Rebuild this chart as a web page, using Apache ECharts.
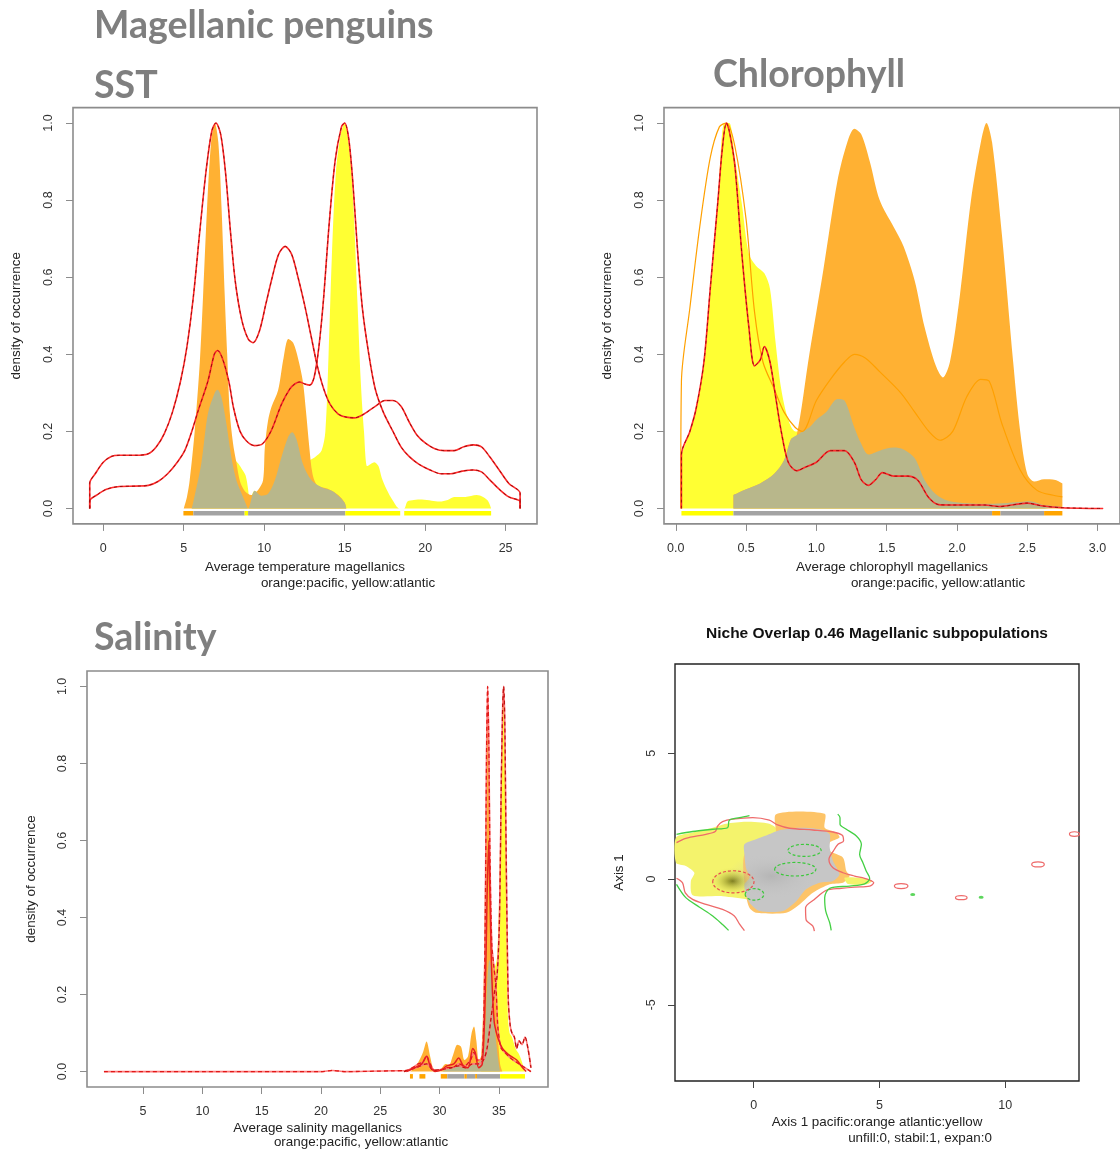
<!DOCTYPE html>
<html>
<head>
<meta charset="utf-8">
<script src="https://cdn.jsdelivr.net/npm/echarts@6/dist/echarts.min.js"></script>
<style>
  html, body { margin: 0; padding: 0; background: #fff; }
  #chart { width: 1120px; height: 1151px; }
</style>
</head>
<body>
<div id="chart"></div>
<script>
// ---------- tick values ----------
const densityTicks = [0, 0.2, 0.4, 0.6, 0.8, 1.0];
const sstTicks = [0, 5, 10, 15, 20, 25];
const chlTicks = [0, 0.5, 1.0, 1.5, 2.0, 2.5, 3.0];
const salTicks = [5, 10, 15, 20, 25, 30, 35];
const nicheTicksX = [0, 5, 10];
const nicheTicksY = [-5, 0, 5];

// ---------- SST (x: temperature, y: scaled density) ----------
const sstPacific = [[5.0,0],[5.2,0.03],[5.37,0.073],[5.68,0.2],[6.0,0.38],[6.2,0.55],[6.45,0.78],[6.7,0.95],[6.93,1.0],[7.15,0.95],[7.35,0.78],[7.55,0.55],[7.7,0.4],[7.86,0.25],[8.06,0.17],[8.27,0.12],[8.5,0.07],[8.8,0.045],[9.2,0.035],[9.62,0.048],[9.93,0.073],[10.04,0.159],[10.24,0.228],[10.45,0.263],[10.86,0.306],[11.2,0.39],[11.5,0.44],[11.8,0.43],[12.1,0.39],[12.4,0.33],[12.6,0.25],[12.8,0.16],[13.0,0.09],[13.3,0.06],[14.0,0.05],[14.6,0.035],[15.0,0.015],[15.1,0]];
const sstAtlantic = [[5.5,0.01],[6.09,0.116],[6.5,0.246],[6.93,0.30],[7.1,0.308],[7.34,0.289],[7.65,0.22],[7.96,0.14],[8.2,0.125],[8.4,0.116],[8.65,0.1],[8.85,0.085],[9.0,0.05],[9.1,0.01],[9.2,0.03],[9.41,0.046],[9.83,0.033],[10.24,0.038],[10.66,0.073],[11.07,0.133],[11.48,0.185],[11.74,0.198],[12.0,0.18],[12.4,0.13],[12.7,0.125],[12.94,0.128],[13.15,0.133],[13.56,0.15],[13.8,0.2],[14.0,0.4],[14.2,0.65],[14.45,0.87],[14.75,0.97],[15.0,1.0],[15.3,0.93],[15.55,0.78],[15.8,0.53],[16.0,0.33],[16.2,0.2],[16.4,0.11],[16.6,0.115],[16.85,0.12],[17.1,0.11],[17.3,0.08],[17.6,0.05],[18.0,0.02],[18.4,0],[18.7,0],[18.9,0.018],[19.3,0.022],[19.8,0.023],[20.4,0.02],[20.9,0.018],[21.4,0.022],[21.8,0.03],[22.5,0.03],[23.2,0.035],[23.6,0.03],[23.9,0.02],[24.1,0]];
const sstOverlap = [[5.5,0],[5.57,0.012],[6.09,0.116],[6.5,0.246],[6.93,0.30],[7.1,0.308],[7.34,0.289],[7.65,0.22],[7.96,0.133],[8.27,0.073],[8.6,0.038],[8.9,0.008],[9.0,0],[9.1,0.008],[9.41,0.046],[9.83,0.033],[10.24,0.038],[10.66,0.073],[11.07,0.133],[11.48,0.185],[11.74,0.198],[12.0,0.18],[12.4,0.116],[12.94,0.073],[13.56,0.055],[14.2,0.046],[14.6,0.033],[15.0,0.015],[15.1,0]];
const sstEnvPacific = [[-0.84,0],[-0.84,0.066],[-0.5,0.09],[0,0.12],[0.5,0.135],[1,0.138],[2,0.138],[2.8,0.142],[3.3,0.16],[3.8,0.195],[4.3,0.25],[4.8,0.33],[5.2,0.42],[5.6,0.55],[6.0,0.72],[6.4,0.88],[6.75,0.98],[7.0,1.0],[7.3,0.97],[7.6,0.87],[7.9,0.72],[8.2,0.59],[8.6,0.49],[9.0,0.44],[9.3,0.43],[9.7,0.46],[10.1,0.53],[10.5,0.6],[10.9,0.66],[11.3,0.68],[11.7,0.66],[12.1,0.6],[12.5,0.53],[12.9,0.45],[13.3,0.37],[13.7,0.31],[14.1,0.27],[14.6,0.245],[15.1,0.237],[15.6,0.235],[16.2,0.245],[16.9,0.265],[17.5,0.28],[18.0,0.28],[18.5,0.265],[19.0,0.225],[19.5,0.19],[20.0,0.17],[20.6,0.155],[21.2,0.15],[21.8,0.15],[22.4,0.16],[23.0,0.165],[23.5,0.16],[24.0,0.135],[24.6,0.1],[25.2,0.065],[25.9,0.04],[25.9,0]];
const sstEnvAtlantic = [[-0.84,0],[-0.84,0.02],[-0.4,0.035],[0.2,0.05],[1,0.057],[2,0.058],[2.8,0.06],[3.4,0.07],[4.0,0.09],[4.6,0.12],[5.06,0.15],[5.5,0.2],[5.9,0.254],[6.5,0.33],[6.9,0.4],[7.1,0.41],[7.4,0.39],[7.8,0.33],[8.1,0.26],[8.5,0.2],[8.9,0.175],[9.4,0.163],[9.9,0.168],[10.45,0.203],[11.07,0.27],[11.59,0.31],[11.9,0.323],[12.2,0.328],[12.52,0.323],[12.83,0.32],[13.1,0.34],[13.4,0.42],[13.7,0.55],[14.0,0.72],[14.4,0.9],[14.8,0.99],[15.0,1.0],[15.25,0.96],[15.5,0.85],[15.8,0.67],[16.1,0.52],[16.5,0.4],[16.9,0.31],[17.4,0.25],[18.0,0.2],[18.5,0.16],[19.0,0.135],[19.6,0.115],[20.3,0.1],[21.0,0.09],[21.6,0.09],[22.3,0.097],[23.0,0.1],[23.5,0.095],[24.0,0.075],[24.6,0.05],[25.2,0.03],[25.9,0.018],[25.9,0]];
// rug segments: [from, to, group] group 0 = pacific only, 1 = both, 2 = atlantic only
const sstRug = [[4.98,5.6,0],[5.6,8.78,1],[8.78,9.0,2],[9.0,15.04,1],[15.04,18.45,2],[18.7,24.1,2]];

// ---------- Chlorophyll ----------
const chlPacific = [[0.41,0.035],[0.5,0.05],[0.6,0.065],[0.7,0.09],[0.77,0.125],[0.82,0.18],[0.86,0.19],[0.95,0.40],[1.05,0.62],[1.15,0.85],[1.22,0.95],[1.27,0.985],[1.32,0.97],[1.38,0.9],[1.45,0.80],[1.55,0.73],[1.62,0.68],[1.7,0.59],[1.77,0.47],[1.85,0.37],[1.9,0.34],[1.95,0.38],[2.02,0.55],[2.1,0.80],[2.17,0.95],[2.21,1.0],[2.25,0.95],[2.32,0.71],[2.4,0.38],[2.45,0.2],[2.5,0.09],[2.55,0.07],[2.62,0.076],[2.7,0.074],[2.75,0.065]];
const chlAtlantic = [[0.04,0.14],[0.1,0.2],[0.145,0.26],[0.2,0.38],[0.245,0.57],[0.3,0.8],[0.345,1.0],[0.38,1.0],[0.42,0.91],[0.47,0.79],[0.52,0.66],[0.57,0.63],[0.63,0.61],[0.67,0.57],[0.71,0.43],[0.75,0.31],[0.8,0.23],[0.85,0.2],[0.9,0.2],[0.95,0.21],[1.0,0.23],[1.07,0.25],[1.15,0.284],[1.2,0.28],[1.27,0.21],[1.32,0.167],[1.37,0.14],[1.45,0.15],[1.55,0.158],[1.62,0.153],[1.7,0.13],[1.77,0.074],[1.85,0.037],[1.95,0.019],[2.2,0.012],[2.45,0.017],[2.52,0.019],[2.62,0.009],[2.75,0.005]];
const chlOverlap = [[0.41,0.035],[0.5,0.05],[0.6,0.065],[0.7,0.09],[0.77,0.125],[0.82,0.18],[0.86,0.19],[0.9,0.2],[0.95,0.21],[1.0,0.23],[1.07,0.25],[1.15,0.284],[1.2,0.28],[1.27,0.21],[1.32,0.167],[1.37,0.14],[1.45,0.15],[1.55,0.158],[1.62,0.153],[1.7,0.13],[1.77,0.074],[1.85,0.037],[1.95,0.019],[2.2,0.012],[2.45,0.017],[2.52,0.019],[2.62,0.009],[2.75,0.005]];
const chlEnvPacific = [[0.035,0],[0.04,0.33],[0.1,0.52],[0.17,0.73],[0.245,0.91],[0.31,0.99],[0.36,1.0],[0.42,0.94],[0.5,0.75],[0.56,0.51],[0.62,0.38],[0.7,0.31],[0.77,0.25],[0.85,0.21],[0.9,0.2],[1.0,0.28],[1.1,0.335],[1.2,0.38],[1.27,0.40],[1.35,0.39],[1.45,0.355],[1.6,0.30],[1.7,0.25],[1.8,0.2],[1.88,0.177],[1.97,0.2],[2.07,0.29],[2.17,0.335],[2.23,0.33],[2.32,0.22],[2.45,0.10],[2.57,0.047],[2.7,0.033],[2.75,0.03]];
const chlEnvAtlantic = [[0.04,0],[0.04,0.14],[0.1,0.2],[0.145,0.26],[0.2,0.38],[0.245,0.57],[0.3,0.8],[0.33,0.93],[0.36,1.0],[0.38,0.98],[0.42,0.89],[0.47,0.66],[0.52,0.47],[0.56,0.37],[0.6,0.385],[0.63,0.42],[0.67,0.38],[0.71,0.29],[0.75,0.2],[0.8,0.12],[0.86,0.098],[0.92,0.107],[1.0,0.12],[1.1,0.15],[1.2,0.15],[1.27,0.12],[1.32,0.074],[1.37,0.06],[1.42,0.074],[1.47,0.093],[1.55,0.084],[1.65,0.084],[1.72,0.074],[1.8,0.028],[1.87,0.01],[1.95,0.009],[2.2,0.009],[2.3,0.005],[2.5,0.014],[2.6,0.007],[2.75,0.002],[3.04,0]];
const chlRug = [[0.04,0.41,2],[0.41,2.25,1],[2.25,2.31,0],[2.31,2.62,1],[2.62,2.75,0]];

// ---------- Salinity ----------
const salPacific = [[27.5,0],[27.9,0.01],[28.3,0.03],[28.6,0.05],[28.9,0.078],[29.2,0.04],[29.5,0.005],[29.9,0],[30.2,0.01],[30.5,0.02],[30.8,0.018],[31.1,0.04],[31.5,0.07],[31.8,0.065],[32.1,0.03],[32.4,0.04],[32.7,0.1],[32.9,0.117],[33.1,0.08],[33.3,0.03],[33.5,0.04],[33.7,0.2],[33.85,0.55],[33.95,0.85],[34.05,0.97],[34.15,0.8],[34.25,0.5],[34.4,0.3],[34.55,0.27],[34.7,0.2],[34.9,0.1],[35.1,0.02],[35.3,0]];
const salAtlantic = [[33.5,0],[33.7,0.03],[33.9,0.15],[34.05,0.25],[34.3,0.28],[34.6,0.27],[34.85,0.3],[35.05,0.5],[35.2,0.8],[35.35,0.95],[35.45,0.96],[35.55,0.8],[35.65,0.45],[35.75,0.15],[35.9,0.1],[36.1,0.09],[36.4,0.06],[36.7,0.045],[37.0,0.02],[37.2,0]];
const salOverlap = [[30.2,0],[30.5,0.005],[31.0,0.01],[31.5,0.015],[32.0,0.01],[32.5,0.015],[33.0,0.02],[33.5,0.03],[33.75,0.06],[33.9,0.15],[34.05,0.25],[34.2,0.29],[34.35,0.27],[34.5,0.2],[34.7,0.1],[34.9,0.04],[35.1,0]];
const salEnvPacific = [[1.7,0],[10,0],[20,0],[21,0.003],[22,0],[26,0.002],[27.2,0.003],[27.7,0.01],[28.2,0.02],[28.6,0.025],[28.9,0.04],[29.2,0.02],[29.6,0.003],[30.2,0.005],[30.6,0.01],[31.2,0.012],[31.6,0.02],[32.1,0.015],[32.6,0.03],[32.9,0.05],[33.2,0.03],[33.5,0.03],[33.7,0.1],[33.85,0.4],[33.95,0.8],[34.05,1.0],[34.15,0.85],[34.25,0.55],[34.4,0.33],[34.55,0.28],[34.75,0.22],[34.9,0.12],[35.05,0.08],[35.2,0.06],[35.5,0.05],[35.8,0.04],[36.2,0.03],[36.7,0.02],[37.2,0.01],[37.7,0]];
const salEnvAtlantic = [[27.0,0],[28.0,0.01],[28.9,0.02],[29.5,0.003],[30.0,0.005],[31.0,0.01],[31.6,0.015],[32.2,0.01],[32.8,0.02],[33.3,0.02],[33.7,0.03],[34.0,0.06],[34.3,0.13],[34.6,0.2],[34.85,0.25],[35.05,0.4],[35.2,0.75],[35.32,0.95],[35.4,1.0],[35.5,0.9],[35.6,0.6],[35.7,0.35],[35.8,0.18],[35.95,0.12],[36.1,0.1],[36.3,0.09],[36.5,0.06],[36.7,0.08],[36.95,0.07],[37.2,0.09],[37.45,0.06],[37.7,0.01]];
const salEnvBoth = [[27.2,0],[27.9,0.01],[28.5,0.02],[28.9,0.04],[29.2,0.015],[29.6,0],[30.2,0.005],[30.6,0.015],[31.2,0.02],[31.6,0.035],[32.0,0.015],[32.4,0.01],[32.8,0.06],[33.0,0.05],[33.3,0.01],[33.6,0.02],[33.85,0.2],[34.0,0.45],[34.15,0.6],[34.25,0.45],[34.4,0.25],[34.6,0.13],[34.8,0.1],[35.0,0.08],[35.3,0.06],[35.6,0.05],[36.0,0.04],[36.5,0.03],[37.0,0.01],[37.3,0]];
const salRug = [[27.5,27.75,0],[28.3,28.8,0],[30.1,30.65,0],[30.65,32.1,1],[32.1,32.3,0],[32.3,33.0,1],[33.0,33.15,0],[33.15,35.1,1],[35.1,37.2,2]];

// ---------- Niche overlap (PCA space) ----------
const nicheAtlantic = [[-3.09,1.65],[-2.43,1.85],[-1.63,2.04],[-1.10,2.20],[-0.31,2.28],[0.62,2.20],[1.02,1.91],[1.16,1.51],[1.02,-0.88],[-0.17,-0.81],[-1.24,-0.68],[-2.43,-0.64],[-2.50,-0.08],[-2.36,0.25],[-2.70,0.52],[-3.09,0.65]];
const nicheAtlanticIsle = [[3.61,0.05],[4.2,0.05],[4.7,-0.07],[4.5,-0.21],[3.75,-0.2]];
const nichePacific = [[0.89,2.58],[2.82,2.60],[2.82,2.04],[3.28,1.85],[3.41,1.65],[3.02,1.45],[3.02,1.12],[3.55,0.85],[3.68,0.32],[3.81,0.12],[3.55,-0.15],[3.02,-0.21],[2.35,-0.55],[1.82,-1.01],[1.29,-1.34],[0.09,-1.34],[-0.17,-1.14],[-0.31,-0.61],[-0.37,0.98],[0.62,1.78],[0.89,1.71]];
const nicheOverlap = [[-0.37,1.38],[0.09,1.58],[0.62,1.78],[1.02,1.94],[1.82,2.04],[2.62,1.98],[3.02,1.78],[3.02,1.25],[3.15,0.72],[3.41,0.19],[3.15,-0.08],[2.62,-0.15],[2.08,-0.41],[1.69,-0.88],[1.16,-1.27],[0.23,-1.27],[-0.11,-1.01],[-0.31,-0.61],[-0.37,-0.21],[-0.17,0.05],[-0.31,0.45],[-0.37,0.98]];
const nicheCoreAtlantic = [[-0.84,-0.08]];
const nicheCoreOverlap = [[0.7,0.12]];
const nicheRedTop = [[-3.07,1.45],[-2.70,1.62],[-1.90,1.78],[-1.53,1.89],[-1.43,2.11],[-1.24,2.28],[-0.84,2.38],[-0.04,2.44],[0.62,2.34],[0.95,2.15],[1.42,2.02],[2.35,1.95],[3.15,1.87],[3.52,1.74],[3.57,1.51],[3.35,1.38],[3.17,1.12],[2.99,0.78],[3.15,0.45],[3.55,0.25],[4.01,0.12],[4.54,-0.01],[4.77,-0.15],[4.61,-0.28],[4.01,-0.32],[3.48,-0.37],[2.88,-0.45],[2.41,-0.81],[2.06,-1.14],[2.08,-1.61],[2.35,-1.87],[2.41,-2.07]];
const nicheRedLow = [[-3.07,0.03],[-2.83,-0.15],[-2.72,-0.55],[-2.43,-0.81],[-1.90,-1.01],[-1.24,-1.21],[-0.77,-1.47],[-0.57,-1.78],[-0.37,-2.05]];
const nicheGreenTop = [[-3.07,1.78],[-2.43,1.89],[-1.63,1.98],[-1.04,2.04],[-0.97,2.34],[-0.57,2.44],[-0.17,2.52]];
const nicheGreenRight = [[3.34,2.58],[3.43,2.44],[3.43,2.18],[3.68,1.98],[4.08,1.71],[4.28,1.38],[4.21,0.98],[4.34,0.65],[4.47,0.32],[4.61,0.03],[4.41,-0.19],[3.81,-0.28],[3.02,-0.37],[2.82,-0.74],[2.86,-1.27],[3.02,-1.74],[3.08,-2.04]];
const nicheGreenLow = [[-3.07,-0.21],[-2.70,-0.74],[-2.17,-1.11],[-1.63,-1.47],[-1.24,-1.81],[-1.00,-2.04]];
// ellipses: [cx, cy, rx, ry]
const nicheGreenCores = [[2.02,1.14,0.66,0.24],[1.65,0.39,0.82,0.27],[0.03,-0.61,0.37,0.23]];
const nicheRedCores = [[-0.81,-0.11,0.82,0.44]];
const nicheRedIslets = [[5.86,-0.28,0.27,0.1],[8.25,-0.74,0.23,0.08],[11.3,0.58,0.25,0.1],[12.75,1.79,0.2,0.09]];
const nicheGreenIslets = [[6.32,-0.61],[9.04,-0.72]];

// ---------- styling ----------
const FONT = '"Liberation Sans", Arial, Helvetica, sans-serif';
const C_PAC = '#FFB133';
const C_ATL = '#FFFF33';
const C_OVL = '#B8B78B';
const RUG = ['#FFA500', '#A3A3A3', '#FFFF00'];

function fmt1(v) { return v.toFixed(1); }
function fmt0(v) { return String(v); }

function xAxisFor(gi, min, max, ticks, name, gap, formatter, box) {
  return {
    gridIndex: gi, type: 'value', min, max,
    axisLine: { show: false, onZero: false },
    axisTick: { show: true, length: 7, customValues: ticks, lineStyle: { color: box, width: 1 } },
    axisLabel: { customValues: ticks, formatter, margin: 18, fontSize: 12.5, color: '#333', fontFamily: FONT },
    splitLine: { show: false },
    name, nameLocation: 'middle', nameGap: gap,
    nameTextStyle: { fontSize: 13.4, color: '#222', fontFamily: FONT }
  };
}
function yAxisFor(gi, min, max, ticks, name, gap, formatter, box, margin) {
  return {
    gridIndex: gi, type: 'value', min, max,
    axisLine: { show: false, onZero: false },
    axisTick: { show: true, length: 7, customValues: ticks, lineStyle: { color: box, width: 1 } },
    axisLabel: { customValues: ticks, formatter, rotate: 90, margin, fontSize: 12.5, color: '#333', fontFamily: FONT },
    splitLine: { show: false },
    name, nameLocation: 'middle', nameGap: gap,
    nameTextStyle: { fontSize: 13.4, color: '#222', fontFamily: FONT }
  };
}

function area(gi, data, color, z) {
  return { type: 'line', xAxisIndex: gi, yAxisIndex: gi, data, smooth: 0.3, symbol: 'none', silent: true,
    lineStyle: { width: 0 }, areaStyle: { color, opacity: 1 }, z };
}
function line(gi, data, color, width, z, dash) {
  return { type: 'line', xAxisIndex: gi, yAxisIndex: gi, data, smooth: 0.3, symbol: 'none', silent: true,
    lineStyle: { color, width, type: dash || 'solid' }, z };
}
// red envelope curves: red stroke with a darker dashed core
function redCurve(gi, data) {
  return [line(gi, data, '#FF2B2B', 1.6, 6), line(gi, data, '#9E0B0B', 1, 7, [3, 3])];
}
function rug(gi, data) {
  return { type: 'custom', xAxisIndex: gi, yAxisIndex: gi, data, silent: true, z: 5,
    encode: { x: [0, 1] },
    renderItem: (p, api) => {
      const a = api.coord([api.value(0), 0]);
      const b = api.coord([api.value(1), 0]);
      return { type: 'rect', shape: { x: a[0], y: a[1] + 2.5, width: b[0] - a[0], height: 4.5 },
        style: { fill: RUG[api.value(2)] } };
    } };
}
function polygon(gi, pts, fill, z) {
  return { type: 'custom', xAxisIndex: gi, yAxisIndex: gi, data: [pts[0]], silent: true, z,
    renderItem: (p, api) => ({ type: 'polygon', shape: { points: pts.map(q => api.coord(q)), smooth: 0.25 },
      style: { fill } }) };
}
function ellipses(gi, data, stroke, fill, dash, z) {
  return { type: 'custom', xAxisIndex: gi, yAxisIndex: gi, data, silent: true, z,
    renderItem: (p, api) => {
      const c = api.coord([api.value(0), api.value(1)]);
      const s = api.size([api.value(2), api.value(3)]);
      return { type: 'ellipse', shape: { cx: c[0], cy: c[1], rx: s[0], ry: s[1] },
        style: { fill: fill || 'none', stroke, lineWidth: 1.2, lineDash: dash || null } };
    } };
}
function core(gi, data, size, inner, outer, z) {
  return { type: 'scatter', xAxisIndex: gi, yAxisIndex: gi, data, symbol: 'circle', symbolSize: size, silent: true, z,
    itemStyle: { color: { type: 'radial', x: 0.5, y: 0.5, r: 0.5,
      colorStops: [{ offset: 0, color: inner }, { offset: 1, color: outer }] } } };
}

const GRAY = '#8C8C8C';
const TITLE_FONT = 'bold 37.5px Lato, sans-serif';
const SUB_FONT = '13.4px "Liberation Sans", Arial, sans-serif';
const option = {
  animation: false,
  backgroundColor: '#ffffff',
  grid: [
    { left: 73, top: 107.6, width: 464, height: 416.3, show: true, borderColor: GRAY, borderWidth: 1.6 },
    { left: 664, top: 107.6, width: 462, height: 416.3, show: true, borderColor: GRAY, borderWidth: 1.6 },
    { left: 87, top: 671, width: 461, height: 416, show: true, borderColor: GRAY, borderWidth: 1.6 },
    { left: 675, top: 664, width: 404, height: 417, show: true, borderColor: '#222', borderWidth: 1.4 }
  ],
  xAxis: [
    xAxisFor(0, -1.88, 26.95, sstTicks, 'Average temperature magellanics', 37, fmt0, GRAY),
    xAxisFor(1, -0.084, 3.16, chlTicks, 'Average chlorophyll magellanics', 37, fmt1, GRAY),
    xAxisFor(2, 0.27, 39.14, salTicks, 'Average salinity magellanics', 35, fmt0, GRAY),
    xAxisFor(3, -3.13, 12.93, nicheTicksX, 'Axis 1 pacific:orange atlantic:yellow', 35, fmt0, '#444')
  ],
  yAxis: [
    yAxisFor(0, -0.04, 1.04, densityTicks, 'density of occurrence', 50, fmt1, GRAY, 18),
    yAxisFor(1, -0.04, 1.04, densityTicks, 'density of occurrence', 50, fmt1, GRAY, 18),
    yAxisFor(2, -0.04, 1.04, densityTicks, 'density of occurrence', 49, fmt1, GRAY, 18),
    yAxisFor(3, -8.03, 8.55, nicheTicksY, 'Axis 1', 49, fmt0, '#444', 17)
  ],
  graphic: [
    { type: 'text', x: 94, y: 26, style: { text: 'Magellanic penguins', font: TITLE_FONT, fill: '#7F7F7F', textAlign: 'left', textVerticalAlign: 'middle' } },
    { type: 'text', x: 94, y: 86, style: { text: 'SST', font: TITLE_FONT, fill: '#7F7F7F', textAlign: 'left', textVerticalAlign: 'middle' } },
    { type: 'text', x: 713, y: 74.5, style: { text: 'Chlorophyll', font: TITLE_FONT, fill: '#7F7F7F', textAlign: 'left', textVerticalAlign: 'middle' } },
    { type: 'text', x: 94, y: 638, style: { text: 'Salinity', font: TITLE_FONT, fill: '#7F7F7F', textAlign: 'left', textVerticalAlign: 'middle' } },
    { type: 'text', x: 877, y: 633.5, style: { text: 'Niche Overlap 0.46 Magellanic subpopulations', font: 'bold 15.5px "Liberation Sans", Arial, sans-serif', fill: '#111', textAlign: 'center', textVerticalAlign: 'middle' } },
    { type: 'text', x: 348, y: 583, style: { text: 'orange:pacific, yellow:atlantic', font: SUB_FONT, fill: '#222', textAlign: 'center', textVerticalAlign: 'middle' } },
    { type: 'text', x: 938, y: 583, style: { text: 'orange:pacific, yellow:atlantic', font: SUB_FONT, fill: '#222', textAlign: 'center', textVerticalAlign: 'middle' } },
    { type: 'text', x: 361, y: 1142, style: { text: 'orange:pacific, yellow:atlantic', font: SUB_FONT, fill: '#222', textAlign: 'center', textVerticalAlign: 'middle' } },
    { type: 'text', x: 920, y: 1138, style: { text: 'unfill:0, stabil:1, expan:0', font: SUB_FONT, fill: '#222', textAlign: 'center', textVerticalAlign: 'middle' } }
  ],
  series: [
    // SST
    area(0, sstAtlantic, C_ATL, 1), area(0, sstPacific, C_PAC, 2), area(0, sstOverlap, C_OVL, 3),
    rug(0, sstRug), ...redCurve(0, sstEnvPacific), ...redCurve(0, sstEnvAtlantic),
    // Chlorophyll
    area(1, chlAtlantic, C_ATL, 1), area(1, chlPacific, C_PAC, 2), area(1, chlOverlap, C_OVL, 3),
    rug(1, chlRug), line(1, chlEnvPacific, '#FFA000', 1.2, 5), ...redCurve(1, chlEnvAtlantic),
    // Salinity
    area(2, salAtlantic, C_ATL, 1), area(2, salPacific, C_PAC, 2), area(2, salOverlap, C_OVL, 3),
    rug(2, salRug),
    line(2, salEnvPacific, '#FF7A7A', 1.6, 5), line(2, salEnvPacific, '#E01818', 1.3, 6, [4, 3]),
    line(2, salEnvAtlantic, '#FF7A7A', 1.6, 5), line(2, salEnvAtlantic, '#C01010', 1.3, 6, [4, 3]),
    line(2, salEnvBoth, '#E82020', 1.5, 7),
    // Niche overlap
    polygon(3, nicheAtlantic, '#F4F36C', 1), polygon(3, nichePacific, '#FDC468', 2),
    polygon(3, nicheAtlanticIsle, '#F4F36C', 2), polygon(3, nicheOverlap, '#C6C6C6', 3),
    core(3, nicheCoreAtlantic, [46, 28], 'rgba(85,85,0,0.95)', 'rgba(235,235,90,0)', 4),
    core(3, nicheCoreOverlap, [90, 46], 'rgba(160,160,160,0.55)', 'rgba(198,198,198,0)', 4),
    line(3, nicheRedTop, '#EE6A6A', 1.3, 6), line(3, nicheRedLow, '#EE6A6A', 1.3, 6),
    line(3, nicheGreenTop, '#44D044', 1.3, 6), line(3, nicheGreenRight, '#44D044', 1.3, 6),
    line(3, nicheGreenLow, '#44D044', 1.3, 6),
    ellipses(3, nicheGreenCores, '#3CC83C', null, [3, 2], 7),
    ellipses(3, nicheRedCores, '#E85050', null, [3, 2], 7),
    ellipses(3, nicheRedIslets, '#EE6A6A', 'rgba(255,255,255,0)', null, 7),
    { type: 'scatter', xAxisIndex: 3, yAxisIndex: 3, data: nicheGreenIslets, symbol: 'circle', symbolSize: [5, 3], silent: true, z: 7, itemStyle: { color: '#33CC33' } }
  ]
};

const chart = echarts.init(document.getElementById('chart'), null, { renderer: 'canvas' });
chart.setOption(option);
</script>
</body>
</html>
